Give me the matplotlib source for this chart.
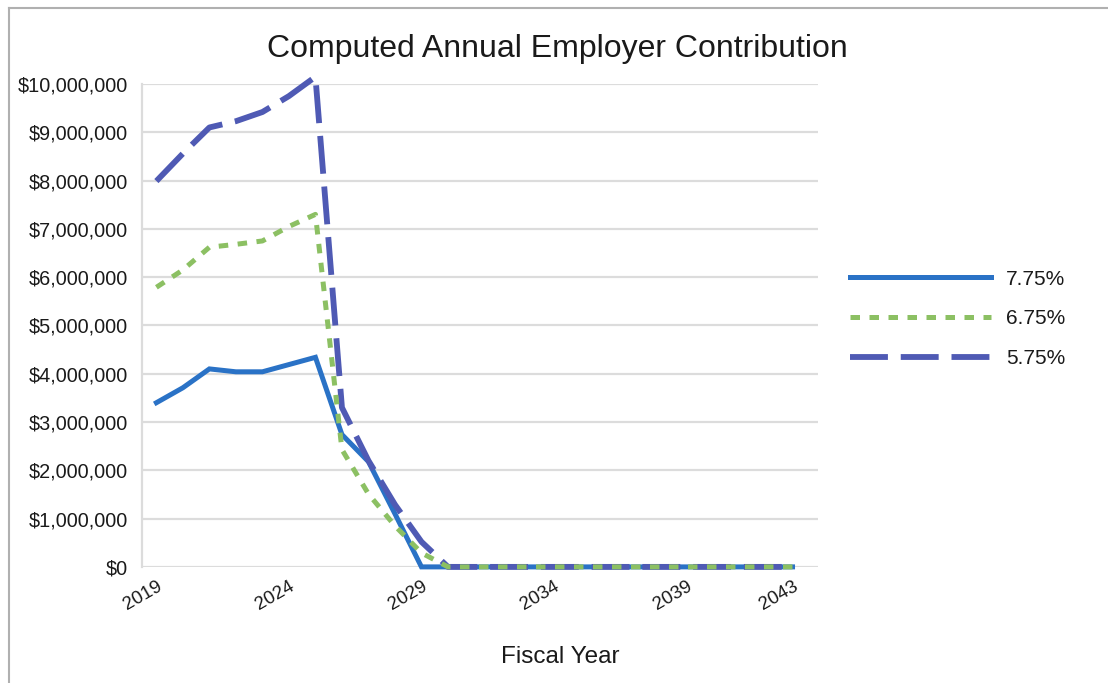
import matplotlib.pyplot as plt
import numpy as np
from matplotlib.ticker import FuncFormatter
from matplotlib.lines import Line2D

plt.rcParams['font.family'] = ['Liberation Sans', 'DejaVu Sans']
plt.rcParams['text.color'] = '#1a1a1a'

# Fiscal years and contributions (millions of dollars)
years = list(range(2019, 2044))
rate_775 = [3.40, 3.71, 4.10, 4.04, 4.04, 4.19, 4.34, 2.74, 2.18, 1.10] + [0.0] * 15
rate_675 = [5.79, 6.15, 6.62, 6.68, 6.75, 7.05, 7.30, 2.43, 1.51, 0.85, 0.29] + [0.0] * 14
rate_575 = [7.99, 8.56, 9.10, 9.23, 9.42, 9.75, 10.15, 3.30, 2.20, 1.29, 0.52] + [0.0] * 14
labels = ['7.75%', '6.75%', '5.75%']
xticks = [2019, 2024, 2029, 2034, 2039, 2043]

blue = '#2a72c6'
green = '#8cc063'
purple = '#4f5ab4'

fig = plt.figure(figsize=(11.08, 6.83), dpi=100)
ax = fig.add_axes([0.128, 0.170, 0.610, 0.707])

ax.plot(years, np.array(rate_775) * 1e6, color=blue, lw=3.6,
        solid_joinstyle='miter', zorder=3, clip_on=False)
ax.plot(years, np.array(rate_575) * 1e6, color=purple, lw=4.2,
        linestyle=(0, (6.5, 2.2)), zorder=4, clip_on=False)
ax.plot(years, np.array(rate_675) * 1e6, color=green, lw=3.6,
        linestyle=(0, (1.9, 1.9)), zorder=5, clip_on=False)

ax.set_ylim(0, 10e6)
ax.set_xlim(2018.45, 2043.95)
ax.set_yticks(np.arange(0, 10.5e6, 1e6))
ax.yaxis.set_major_formatter(FuncFormatter(lambda v, p: '${:,.0f}'.format(v)))
ax.set_xticks(xticks)
ax.set_xticklabels([str(y) for y in xticks], rotation=30, ha='right',
                   rotation_mode='anchor', fontsize=13.5, color='#1a1a1a')
ax.tick_params(axis='y', labelsize=14.3, length=0, pad=10, labelcolor='#1a1a1a')
ax.tick_params(axis='x', length=0, pad=8)

ax.grid(axis='y', color='#dcdcdc', lw=1.6)
ax.set_axisbelow(True)
for s in ['top', 'right', 'bottom']:
    ax.spines[s].set_visible(False)
ax.spines['left'].set_color('#dcdcdc')
ax.spines['left'].set_linewidth(1.6)

fig.text(0.506, 0.038, 'Fiscal Year', ha='center', va='center', fontsize=17.5)
fig.text(0.503, 0.928, 'Computed Annual Employer Contribution', ha='center',
         va='center', fontsize=23)

handles = [
    Line2D([], [], color=blue, lw=3.6),
    Line2D([], [], color=green, lw=3.6, linestyle=(0, (1.9, 1.9))),
    Line2D([], [], color=purple, lw=4.2, linestyle=(0, (6.5, 2.2))),
]
fig.legend(handles, labels, loc='center left', bbox_to_anchor=(0.750, 0.533),
           frameon=False, fontsize=15, handlelength=6.8, labelspacing=1.0,
           handletextpad=0.7)

# scanned frame edges
fig.add_artist(Line2D([0.008, 0.008], [0, 0.988], color='#b0b0b0', lw=1.5,
                      transform=fig.transFigure))
fig.add_artist(Line2D([0.008, 1.0], [0.988, 0.988], color='#b0b0b0', lw=1.5,
                      transform=fig.transFigure))

fig.savefig('out.png', dpi=100)
